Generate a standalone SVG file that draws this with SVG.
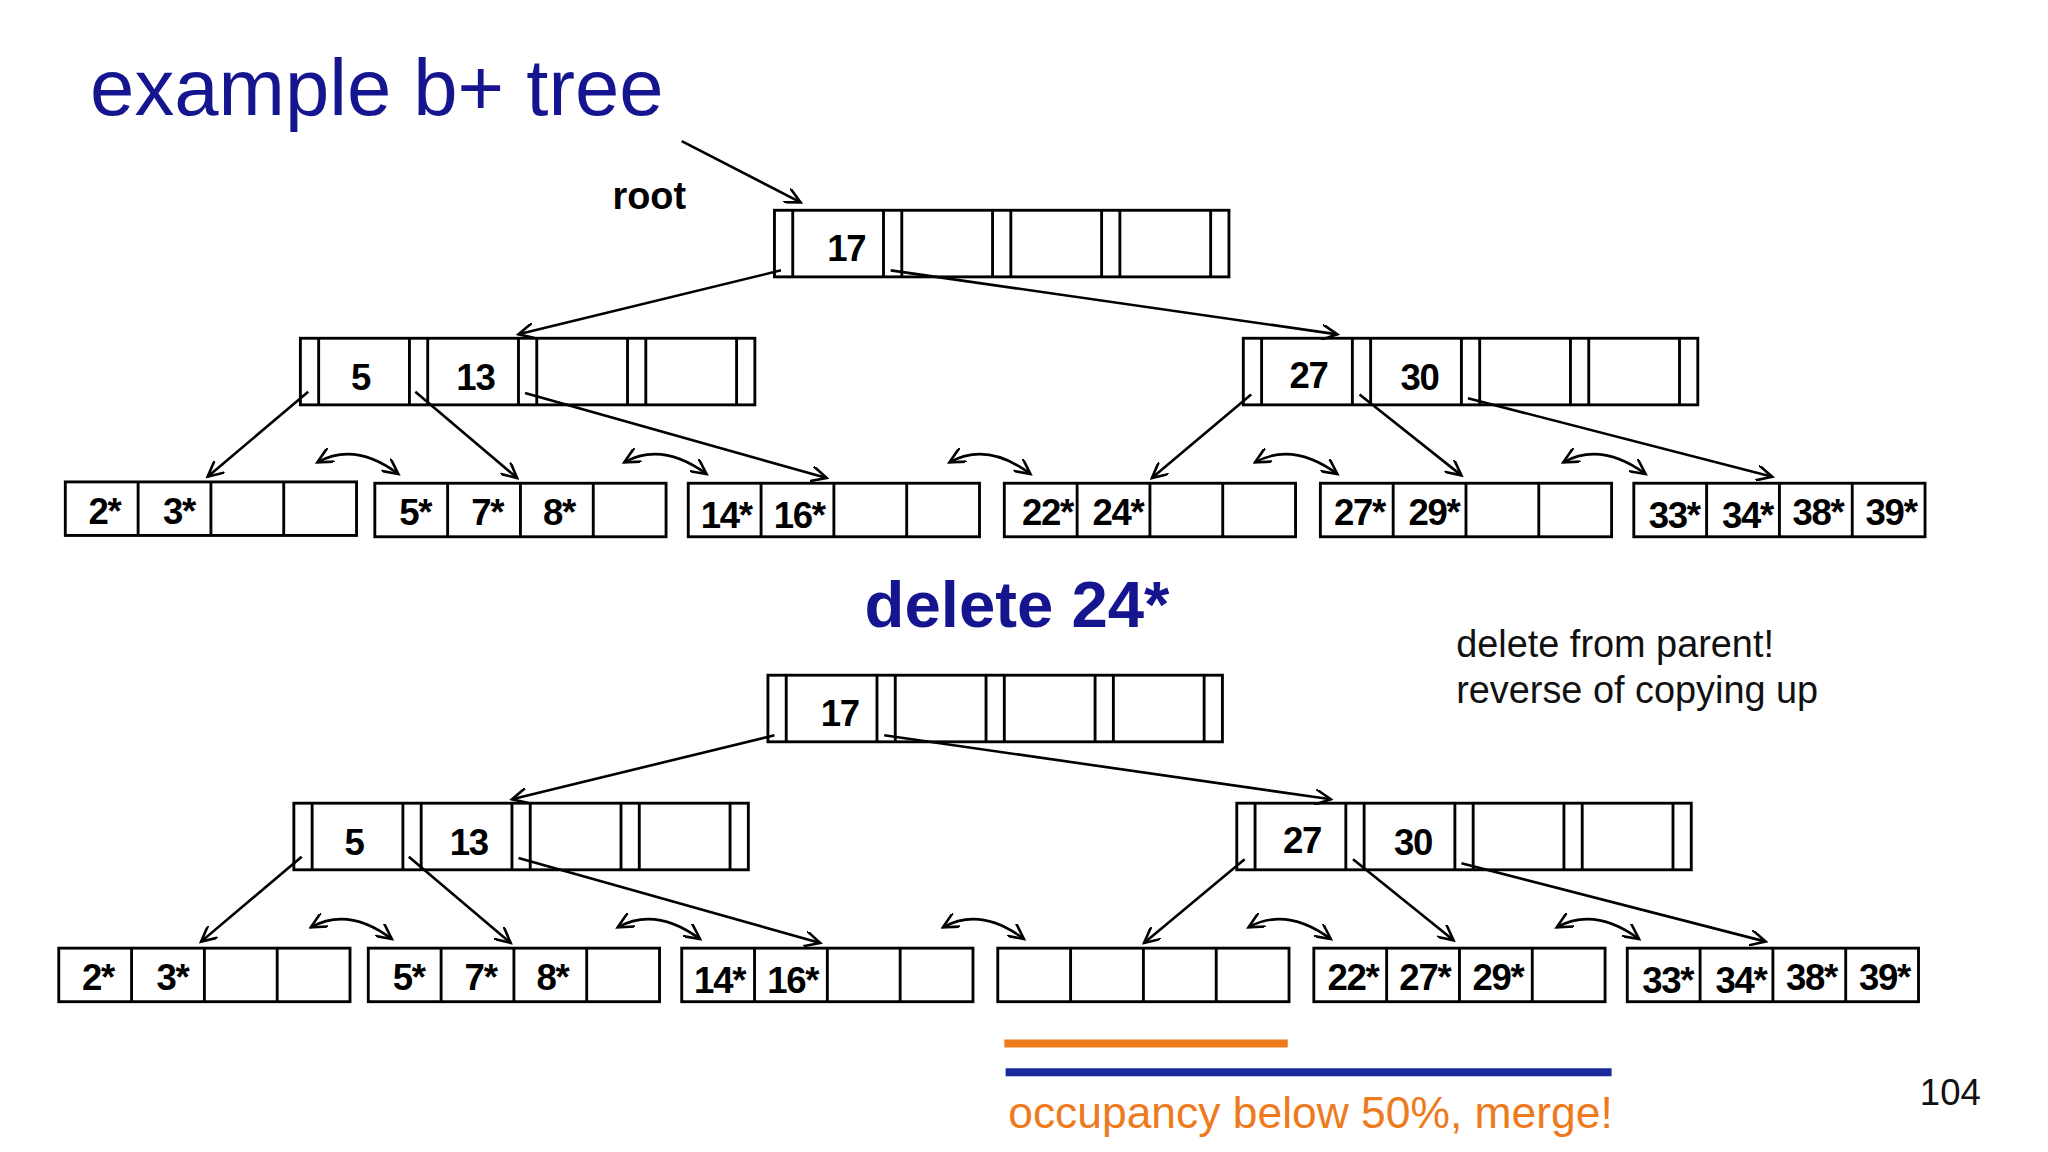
<svg xmlns="http://www.w3.org/2000/svg" width="2048" height="1152" viewBox="0 0 2048 1152">
<style>
.b{fill:none;stroke:#000;stroke-width:2.2}
.k{font-family:"Liberation Sans",Arial,sans-serif;font-weight:bold;font-size:28px;letter-spacing:-1px;text-anchor:middle;fill:#000}
.c{fill:none;stroke:#000;stroke-width:2}
</style>
<defs>
<marker id="a" markerWidth="14" markerHeight="12" refX="12" refY="6" orient="auto-start-reverse" markerUnits="userSpaceOnUse"><path d="M0,0 L12,6 L0,12" fill="none" stroke="#000" stroke-width="2"/></marker>
<g id="inode" class="b"><rect x="0" y="0" width="348" height="51"/><path d="M14,0V51M83.5,0V51M97.5,0V51M167,0V51M181,0V51M250.5,0V51M264.5,0V51M334,0V51"/></g>
<g id="leaf" class="b"><rect x="0" y="0" width="223" height="41"/><path d="M55.75,0V41M111.5,0V41M167.25,0V41"/></g>
</defs>
<rect width="2048" height="1152" fill="#fff"/>
<g transform="scale(1.306)">
<text x="69" y="88" font-family="Liberation Sans,Arial,sans-serif" font-size="61" fill="#15158f">example b+ tree</text>
<text x="469" y="160" font-family="Liberation Sans,Arial,sans-serif" font-weight="bold" font-size="29">root</text>
<text x="662" y="480" font-family="Liberation Sans,Arial,sans-serif" font-weight="bold" font-size="50" fill="#15158f">delete 24*</text>
<text font-family="Liberation Sans,Arial,sans-serif" font-size="29" fill="#111"><tspan x="1115" y="503">delete from parent!</tspan><tspan x="1115" y="538">reverse of copying up</tspan></text>
<text x="1470" y="846" font-family="Liberation Sans,Arial,sans-serif" font-size="28" fill="#111">104</text>
<text x="772" y="864" font-family="Liberation Sans,Arial,sans-serif" font-size="34" fill="#ee7a1e">occupancy below 50%, merge!</text>
<path d="M769,799H986" stroke="#ee7a1e" stroke-width="6"/>
<path d="M770,821H1234" stroke="#1a2a9c" stroke-width="6"/>

<g id="connectors" class="c" marker-end="url(#a)">
<path d="M522,108L613,155"/>
<path d="M598,207L397,256"/><path d="M682,207L1024,256"/>
<path d="M236,300L159,365"/><path d="M318,300L396,366"/><path d="M402,301L633,366"/>
<path d="M958,302L882,366"/><path d="M1041,302L1119,364"/><path d="M1124,305L1357,365"/>
<g marker-start="url(#a)">
<path d="M243,354Q272,338 305,363"/><path d="M478,354Q507,338 541,363"/><path d="M727,354Q756,338 789,363"/><path d="M961,354Q990,338 1024,363"/><path d="M1197,354Q1226,338 1260,363"/>
</g>
<path d="M593,563L392,612"/><path d="M677,563L1019,612"/>
<path d="M231,656L154,721"/><path d="M313,656L391,722"/><path d="M397,657L628,722"/>
<path d="M953,658L876,722"/><path d="M1036,658L1113,720"/><path d="M1119,661L1352,721"/>
<g marker-start="url(#a)">
<path d="M238,710Q267,694 300,719"/><path d="M473,710Q502,694 536,719"/><path d="M722,710Q751,694 784,719"/><path d="M956,710Q985,694 1019,719"/><path d="M1192,710Q1221,694 1255,719"/>
</g>
</g>

<g id="t-root"><use href="#inode" x="593" y="161"/><text class="k" x="648" y="200">17</text></g>
<g id="t-l"><use href="#inode" x="230" y="259"/><text class="k" x="276" y="299">5</text><text class="k" x="364" y="299">13</text></g>
<g id="t-r"><use href="#inode" x="952" y="259"/><text class="k" x="1002" y="297">27</text><text class="k" x="1087" y="299">30</text></g>
<g id="t-l1"><use href="#leaf" x="50" y="369"/><text class="k" x="80" y="401">2*</text><text class="k" x="137" y="401">3*</text></g>
<g id="t-l2"><use href="#leaf" x="287" y="370"/><text class="k" x="318" y="402">5*</text><text class="k" x="373" y="402">7*</text><text class="k" x="428" y="402">8*</text></g>
<g id="t-l3"><use href="#leaf" x="527" y="370"/><text class="k" x="556" y="404">14*</text><text class="k" x="612" y="404">16*</text></g>
<g id="t-l4"><use href="#leaf" x="769" y="370"/><text class="k" x="802" y="402">22*</text><text class="k" x="856" y="402">24*</text></g>
<g id="t-l5"><use href="#leaf" x="1011" y="370"/><text class="k" x="1041" y="402">27*</text><text class="k" x="1098" y="402">29*</text></g>
<g id="t-l6"><use href="#leaf" x="1251" y="370"/><text class="k" x="1282" y="404">33*</text><text class="k" x="1338" y="404">34*</text><text class="k" x="1392" y="402">38*</text><text class="k" x="1448" y="402">39*</text></g>

<g id="b-root"><use href="#inode" x="588" y="517"/><text class="k" x="643" y="556">17</text></g>
<g id="b-l"><use href="#inode" x="225" y="615"/><text class="k" x="271" y="655">5</text><text class="k" x="359" y="655">13</text></g>
<g id="b-r"><use href="#inode" x="947" y="615"/><text class="k" x="997" y="653">27</text><text class="k" x="1082" y="655">30</text></g>
<g id="b-l1"><use href="#leaf" x="45" y="726"/><text class="k" x="75" y="758">2*</text><text class="k" x="132" y="758">3*</text></g>
<g id="b-l2"><use href="#leaf" x="282" y="726"/><text class="k" x="313" y="758">5*</text><text class="k" x="368" y="758">7*</text><text class="k" x="423" y="758">8*</text></g>
<g id="b-l3"><use href="#leaf" x="522" y="726"/><text class="k" x="551" y="760">14*</text><text class="k" x="607" y="760">16*</text></g>
<g id="b-l4"><use href="#leaf" x="764" y="726"/></g>
<g id="b-l5"><use href="#leaf" x="1006" y="726"/><text class="k" x="1036" y="758">22*</text><text class="k" x="1091" y="758">27*</text><text class="k" x="1147" y="758">29*</text></g>
<g id="b-l6"><use href="#leaf" x="1246" y="726"/><text class="k" x="1277" y="760">33*</text><text class="k" x="1333" y="760">34*</text><text class="k" x="1387" y="758">38*</text><text class="k" x="1443" y="758">39*</text></g>
</g>
</svg>
